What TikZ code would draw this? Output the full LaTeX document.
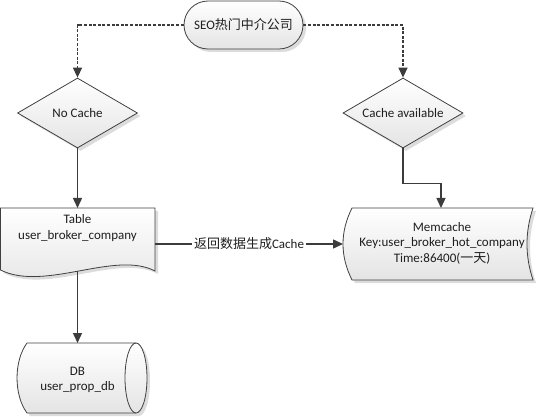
\documentclass[tikz,border=0pt]{standalone}
\usepackage{fontspec}
\setmainfont{Carlito}
\newfontfamily\cjk{Noto Sans CJK SC}
\usetikzlibrary{arrows.meta,shapes.geometric,shapes.misc,shadows,calc}
\definecolor{linec}{HTML}{404040}
\definecolor{connc}{HTML}{3C3C3C}
\definecolor{fillc}{HTML}{E4E4E4}
\definecolor{shadc}{HTML}{DCDCDC}
\definecolor{txtc}{HTML}{1E1E1E}
\begin{document}
\begin{tikzpicture}[x=1pt,y=1pt,
  shp/.style={draw=linec, line width=0.8pt, top color=white, bottom color=fillc,
    drop shadow={shadow xshift=3pt, shadow yshift=-3pt, fill=shadc, opacity=1}},
  anchorbox/.style={draw=none, fill=none, inner sep=0pt, outer sep=0pt, rectangle},
  txt/.style={font=\fontsize{13}{15.5}\selectfont, text=txtc, align=center, inner sep=0pt},
  conn/.style={draw=connc, line width=1.4pt, -{Triangle[length=10pt,width=9pt]}},
  dconn/.style={conn, dash pattern=on 3pt off 1.6pt},
]
\useasboundingbox (0,0) rectangle (544,-417);

% terminator
\node[txt, shp, rounded rectangle, minimum width=119pt, minimum height=48pt] (seo) at (243.5,-25) {SEO{\cjk 热门中介公司}};

% decisions
\node[txt, shp, diamond, aspect=1.7, minimum width=120pt, minimum height=70pt] (nocache) at (77.5,-113) {No Cache};
\node[txt, shp, diamond, aspect=1.7, minimum width=120pt, minimum height=70pt] (cacheav) at (403,-113) {Cache available};

% document shape: Table
\path[shp] (0.5,-208) -- (155,-208) -- (155,-271) .. controls (115,-250) and (45,-292) .. (0.5,-270) -- cycle;
\node[anchorbox, minimum width=155pt, minimum height=63pt] (table) at (77.5,-239.5) {};
\node[txt] (tabletxt) at (77.5,-228) {Table\\user\_broker\_company};

% stored data shape: Memcache
\path[shp] (352,-208) -- (533,-208) .. controls (525,-232) and (525,-256) .. (533,-280) -- (352,-280) .. controls (340,-256) and (340,-232) .. (352,-208) -- cycle;
\node[anchorbox, minimum width=196pt, minimum height=72pt] (mem) at (441,-244) {};
\node[txt] (memtxt) at (442,-243) {Memcache\\Key:user\_broker\_hot\_company\\Time:86400({\cjk 一天})};

% direct access storage: DB
\path[shp] (27,-343) -- (136,-343) arc[start angle=90,end angle=-90,x radius=11,y radius=35] -- (27,-413) .. controls (13.7,-395) and (13.7,-361) .. (27,-343) -- cycle;
\draw[draw=linec, line width=0.8pt] (136,-343) arc[start angle=90,end angle=270,x radius=11,y radius=35];
\node[anchorbox, minimum width=120pt, minimum height=70pt] (db) at (77.5,-378) {};
\node[txt] (dbtxt) at (77.5,-380) {DB\\user\_prop\_db};

% connectors
\draw[dconn] (seo.west) -| (nocache.north);
\draw[dconn] (seo.east) -| (cacheav.north);
\draw[conn] (nocache.south) -- (table.north);
\draw[conn] (table.south) -- (db.north);
\draw[conn] (cacheav.south) -- ++(0,-35) -| (mem.north);
\draw[conn] (mem.west -| table.east) -- node[txt, fill=white, inner xsep=2pt, inner ysep=1pt] (lbl) {{\cjk 返回数据生成}Cache} (mem.west);
\end{tikzpicture}
\end{document}
